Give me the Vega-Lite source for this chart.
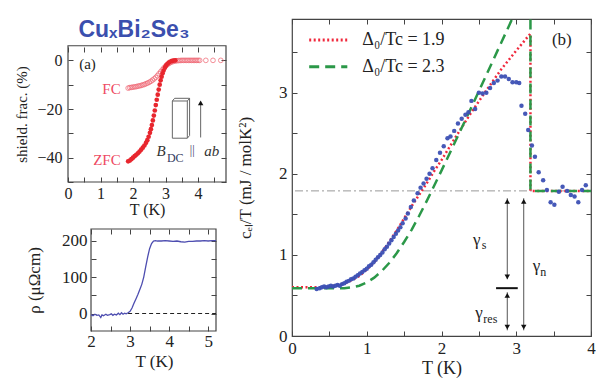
{
  "$schema": "https://vega.github.io/schema/vega-lite/v6.json",
  "background": "white",
  "padding": {"left": 14, "top": 17, "right": 0, "bottom": 0},
  "config": {
    "font": "Liberation Serif",
    "view": {"stroke": "#444", "strokeWidth": 1.2},
    "axis": {"domain": false, "grid": false, "tickSize": -5, "tickColor": "#444", "tickWidth": 1, "labelPadding": 9, "labelFont": "Liberation Serif", "titleFont": "Liberation Serif", "titleFontWeight": "normal", "labelColor": "#222", "titleColor": "#222", "labelFlush": false, "labelOverlap": false, "labelBound": false, "format": ".0f"}
  },
  "datasets": {
    "fc": [
      {"T": 1.85, "s": -11.4}, {"T": 1.9, "s": -11.2}, {"T": 1.95, "s": -11.1}, {"T": 2.0, "s": -11.0}, {"T": 2.05, "s": -10.9}, {"T": 2.1, "s": -10.8}, {"T": 2.15, "s": -10.6}, {"T": 2.2, "s": -10.5}, {"T": 2.25, "s": -10.3}, {"T": 2.3, "s": -10.1}, {"T": 2.35, "s": -9.9}, {"T": 2.4, "s": -9.6}, {"T": 2.45, "s": -9.3}, {"T": 2.5, "s": -9.0}, {"T": 2.55, "s": -8.6}, {"T": 2.6, "s": -8.1}, {"T": 2.65, "s": -7.6}, {"T": 2.7, "s": -7.0}, {"T": 2.75, "s": -6.3}, {"T": 2.8, "s": -5.5}, {"T": 2.85, "s": -4.7}, {"T": 2.9, "s": -3.9}, {"T": 2.95, "s": -3.1}, {"T": 3.0, "s": -2.4}, {"T": 3.05, "s": -1.8}, {"T": 3.1, "s": -1.3}, {"T": 3.15, "s": -0.9}, {"T": 3.2, "s": -0.6}, {"T": 3.25, "s": -0.4}, {"T": 3.3, "s": -0.25}, {"T": 3.35, "s": -0.15}, {"T": 3.4, "s": -0.1}, {"T": 3.45, "s": -0.05}, {"T": 3.5, "s": 0}, {"T": 3.55, "s": 0}, {"T": 3.6, "s": 0}, {"T": 3.65, "s": 0}, {"T": 3.7, "s": 0}, {"T": 3.75, "s": 0}, {"T": 3.8, "s": 0}, {"T": 3.85, "s": 0}, {"T": 3.9, "s": 0}, {"T": 3.95, "s": 0}, {"T": 4.0, "s": 0}, {"T": 4.05, "s": 0}, {"T": 4.24, "s": 0}, {"T": 4.46, "s": 0}, {"T": 4.7, "s": 0}
    ],
    "zfc": [
      {"T": 1.85, "s": -41.5}, {"T": 1.9, "s": -41.2}, {"T": 1.95, "s": -40.6}, {"T": 2.0, "s": -40.0}, {"T": 2.05, "s": -39.4}, {"T": 2.1, "s": -38.8}, {"T": 2.15, "s": -38.2}, {"T": 2.2, "s": -37.5}, {"T": 2.25, "s": -36.7}, {"T": 2.3, "s": -35.9}, {"T": 2.35, "s": -35.0}, {"T": 2.4, "s": -33.9}, {"T": 2.44, "s": -32.8}, {"T": 2.48, "s": -31.4}, {"T": 2.52, "s": -29.8}, {"T": 2.55, "s": -28.3}, {"T": 2.58, "s": -26.6}, {"T": 2.61, "s": -24.7}, {"T": 2.64, "s": -22.7}, {"T": 2.67, "s": -20.6}, {"T": 2.7, "s": -18.4}, {"T": 2.73, "s": -16.2}, {"T": 2.76, "s": -14.1}, {"T": 2.79, "s": -12.0}, {"T": 2.82, "s": -10.0}, {"T": 2.85, "s": -8.2}, {"T": 2.88, "s": -6.7}, {"T": 2.91, "s": -5.3}, {"T": 2.94, "s": -4.2}, {"T": 2.98, "s": -3.0}, {"T": 3.02, "s": -2.1}, {"T": 3.06, "s": -1.4}, {"T": 3.1, "s": -0.9}, {"T": 3.15, "s": -0.5}, {"T": 3.2, "s": -0.25}, {"T": 3.25, "s": -0.1}, {"T": 3.3, "s": 0}
    ],
    "box": [
      {"x": 3.21, "y": -16.7, "x2": 3.67, "y2": -16.7}, {"x": 3.67, "y": -16.7, "x2": 3.67, "y2": -32.0}, {"x": 3.67, "y": -32.0, "x2": 3.21, "y2": -32.0}, {"x": 3.21, "y": -32.0, "x2": 3.21, "y2": -16.7},
      {"x": 3.28, "y": -15.6, "x2": 3.74, "y2": -15.6}, {"x": 3.74, "y": -15.6, "x2": 3.74, "y2": -30.9}, {"x": 3.21, "y": -16.7, "x2": 3.28, "y2": -15.6}, {"x": 3.67, "y": -16.7, "x2": 3.74, "y2": -15.6}, {"x": 3.67, "y": -32.0, "x2": 3.74, "y2": -30.9}
    ],
    "rho": [
      {"T": 2.0, "r": -3}, {"T": 2.05, "r": -6}, {"T": 2.1, "r": -2}, {"T": 2.15, "r": -5}, {"T": 2.2, "r": -4}, {"T": 2.25, "r": -11}, {"T": 2.28, "r": -4}, {"T": 2.32, "r": -6}, {"T": 2.38, "r": -2}, {"T": 2.42, "r": -5}, {"T": 2.48, "r": -3}, {"T": 2.52, "r": -1}, {"T": 2.56, "r": -5}, {"T": 2.6, "r": -2}, {"T": 2.65, "r": -4}, {"T": 2.7, "r": 1}, {"T": 2.74, "r": -3}, {"T": 2.78, "r": 2}, {"T": 2.82, "r": -2}, {"T": 2.86, "r": 1}, {"T": 2.9, "r": -1}, {"T": 2.95, "r": 2}, {"T": 3.0, "r": 6}, {"T": 3.05, "r": 15}, {"T": 3.1, "r": 28}, {"T": 3.15, "r": 40}, {"T": 3.2, "r": 52}, {"T": 3.25, "r": 66}, {"T": 3.3, "r": 80}, {"T": 3.35, "r": 100}, {"T": 3.4, "r": 128}, {"T": 3.45, "r": 155}, {"T": 3.5, "r": 178}, {"T": 3.55, "r": 192}, {"T": 3.6, "r": 199}, {"T": 3.65, "r": 200}, {"T": 3.7, "r": 199}, {"T": 3.8, "r": 199}, {"T": 3.9, "r": 200}, {"T": 4.0, "r": 199}, {"T": 4.1, "r": 198}, {"T": 4.2, "r": 199}, {"T": 4.3, "r": 197}, {"T": 4.4, "r": 196}, {"T": 4.5, "r": 198}, {"T": 4.6, "r": 198}, {"T": 4.7, "r": 199}, {"T": 4.8, "r": 199}, {"T": 4.9, "r": 200}, {"T": 5.0, "r": 199}, {"T": 5.1, "r": 200}, {"T": 5.2, "r": 200}
    ],
    "bcs": [
      {"m": "Δ₀/Tc = 1.9", "i": 0, "T": 0, "c": 0.6}, {"m": "Δ₀/Tc = 1.9", "i": 1, "T": 0.3, "c": 0.6}, {"m": "Δ₀/Tc = 1.9", "i": 2, "T": 0.4, "c": 0.6}, {"m": "Δ₀/Tc = 1.9", "i": 3, "T": 0.5, "c": 0.61}, {"m": "Δ₀/Tc = 1.9", "i": 4, "T": 0.6, "c": 0.625}, {"m": "Δ₀/Tc = 1.9", "i": 5, "T": 0.7, "c": 0.65}, {"m": "Δ₀/Tc = 1.9", "i": 6, "T": 0.8, "c": 0.69}, {"m": "Δ₀/Tc = 1.9", "i": 7, "T": 0.9, "c": 0.74}, {"m": "Δ₀/Tc = 1.9", "i": 8, "T": 1.0, "c": 0.82}, {"m": "Δ₀/Tc = 1.9", "i": 9, "T": 1.1, "c": 0.91}, {"m": "Δ₀/Tc = 1.9", "i": 10, "T": 1.2, "c": 1.03}, {"m": "Δ₀/Tc = 1.9", "i": 11, "T": 1.3, "c": 1.16}, {"m": "Δ₀/Tc = 1.9", "i": 12, "T": 1.4, "c": 1.3}, {"m": "Δ₀/Tc = 1.9", "i": 13, "T": 1.5, "c": 1.45}, {"m": "Δ₀/Tc = 1.9", "i": 14, "T": 1.6, "c": 1.6}, {"m": "Δ₀/Tc = 1.9", "i": 15, "T": 1.7, "c": 1.74}, {"m": "Δ₀/Tc = 1.9", "i": 16, "T": 1.8, "c": 1.88}, {"m": "Δ₀/Tc = 1.9", "i": 17, "T": 1.9, "c": 2.03}, {"m": "Δ₀/Tc = 1.9", "i": 18, "T": 2.0, "c": 2.17}, {"m": "Δ₀/Tc = 1.9", "i": 19, "T": 2.2, "c": 2.47}, {"m": "Δ₀/Tc = 1.9", "i": 20, "T": 2.4, "c": 2.76}, {"m": "Δ₀/Tc = 1.9", "i": 21, "T": 2.6, "c": 3.03}, {"m": "Δ₀/Tc = 1.9", "i": 22, "T": 2.8, "c": 3.29}, {"m": "Δ₀/Tc = 1.9", "i": 23, "T": 3.0, "c": 3.52}, {"m": "Δ₀/Tc = 1.9", "i": 24, "T": 3.19, "c": 3.73}, {"m": "Δ₀/Tc = 1.9", "i": 25, "T": 3.19, "c": 1.79}, {"m": "Δ₀/Tc = 1.9", "i": 26, "T": 4.0, "c": 1.79},
      {"m": "Δ₀/Tc = 2.3", "i": 0, "T": 0, "c": 0.59}, {"m": "Δ₀/Tc = 2.3", "i": 1, "T": 0.3, "c": 0.59}, {"m": "Δ₀/Tc = 2.3", "i": 2, "T": 0.5, "c": 0.59}, {"m": "Δ₀/Tc = 2.3", "i": 3, "T": 0.7, "c": 0.59}, {"m": "Δ₀/Tc = 2.3", "i": 4, "T": 0.8, "c": 0.6}, {"m": "Δ₀/Tc = 2.3", "i": 5, "T": 0.9, "c": 0.62}, {"m": "Δ₀/Tc = 2.3", "i": 6, "T": 1.0, "c": 0.66}, {"m": "Δ₀/Tc = 2.3", "i": 7, "T": 1.1, "c": 0.72}, {"m": "Δ₀/Tc = 2.3", "i": 8, "T": 1.2, "c": 0.8}, {"m": "Δ₀/Tc = 2.3", "i": 9, "T": 1.3, "c": 0.9}, {"m": "Δ₀/Tc = 2.3", "i": 10, "T": 1.4, "c": 1.02}, {"m": "Δ₀/Tc = 2.3", "i": 11, "T": 1.5, "c": 1.16}, {"m": "Δ₀/Tc = 2.3", "i": 12, "T": 1.6, "c": 1.31}, {"m": "Δ₀/Tc = 2.3", "i": 13, "T": 1.7, "c": 1.48}, {"m": "Δ₀/Tc = 2.3", "i": 14, "T": 1.8, "c": 1.66}, {"m": "Δ₀/Tc = 2.3", "i": 15, "T": 1.9, "c": 1.85}, {"m": "Δ₀/Tc = 2.3", "i": 16, "T": 2.0, "c": 2.04}, {"m": "Δ₀/Tc = 2.3", "i": 17, "T": 2.2, "c": 2.43}, {"m": "Δ₀/Tc = 2.3", "i": 18, "T": 2.4, "c": 2.82}, {"m": "Δ₀/Tc = 2.3", "i": 19, "T": 2.6, "c": 3.22}, {"m": "Δ₀/Tc = 2.3", "i": 20, "T": 2.8, "c": 3.62}, {"m": "Δ₀/Tc = 2.3", "i": 21, "T": 3.0, "c": 4.02}, {"m": "Δ₀/Tc = 2.3", "i": 22, "T": 3.1, "c": 4.2}, {"m": "Δ₀/Tc = 2.3", "i": 23, "T": 3.19, "c": 4.3}, {"m": "Δ₀/Tc = 2.3", "i": 24, "T": 3.19, "c": 1.79}, {"m": "Δ₀/Tc = 2.3", "i": 25, "T": 4.0, "c": 1.79}
    ],
    "cel": [
      {"T": 0.33, "c": 0.58}, {"T": 0.37, "c": 0.59}, {"T": 0.4, "c": 0.6}, {"T": 0.43, "c": 0.61}, {"T": 0.46, "c": 0.6}, {"T": 0.49, "c": 0.61}, {"T": 0.52, "c": 0.62}, {"T": 0.55, "c": 0.61}, {"T": 0.58, "c": 0.62}, {"T": 0.61, "c": 0.63}, {"T": 0.64, "c": 0.62}, {"T": 0.67, "c": 0.64}, {"T": 0.7, "c": 0.65}, {"T": 0.73, "c": 0.67}, {"T": 0.76, "c": 0.68}, {"T": 0.79, "c": 0.7}, {"T": 0.82, "c": 0.71}, {"T": 0.85, "c": 0.73}, {"T": 0.88, "c": 0.75}, {"T": 0.91, "c": 0.77}, {"T": 0.94, "c": 0.79}, {"T": 0.97, "c": 0.81}, {"T": 1.0, "c": 0.83}, {"T": 1.03, "c": 0.86}, {"T": 1.06, "c": 0.88}, {"T": 1.09, "c": 0.91}, {"T": 1.12, "c": 0.94}, {"T": 1.15, "c": 0.97}, {"T": 1.18, "c": 1.0}, {"T": 1.21, "c": 1.03}, {"T": 1.24, "c": 1.07}, {"T": 1.27, "c": 1.1}, {"T": 1.3, "c": 1.14}, {"T": 1.33, "c": 1.18}, {"T": 1.36, "c": 1.22}, {"T": 1.39, "c": 1.26}, {"T": 1.42, "c": 1.3}, {"T": 1.45, "c": 1.34}, {"T": 1.48, "c": 1.39}, {"T": 1.52, "c": 1.45}, {"T": 1.55, "c": 1.51}, {"T": 1.59, "c": 1.59}, {"T": 1.63, "c": 1.67}, {"T": 1.68, "c": 1.76}, {"T": 1.72, "c": 1.83}, {"T": 1.76, "c": 1.88}, {"T": 1.8, "c": 1.94}, {"T": 1.84, "c": 2.0}, {"T": 1.88, "c": 2.07}, {"T": 1.93, "c": 2.17}, {"T": 1.98, "c": 2.26}, {"T": 2.03, "c": 2.34}, {"T": 2.08, "c": 2.44}, {"T": 2.12, "c": 2.46}, {"T": 2.17, "c": 2.53}, {"T": 2.22, "c": 2.62}, {"T": 2.27, "c": 2.68}, {"T": 2.32, "c": 2.73}, {"T": 2.36, "c": 2.76}, {"T": 2.4, "c": 2.9}, {"T": 2.45, "c": 2.8}, {"T": 2.5, "c": 3.0}, {"T": 2.55, "c": 2.99}, {"T": 2.6, "c": 3.0}, {"T": 2.65, "c": 3.06}, {"T": 2.7, "c": 3.12}, {"T": 2.75, "c": 3.15}, {"T": 2.8, "c": 3.2}, {"T": 2.85, "c": 3.2}, {"T": 2.9, "c": 3.17}, {"T": 2.95, "c": 3.13}, {"T": 3.0, "c": 3.13}, {"T": 3.04, "c": 3.12}, {"T": 3.07, "c": 2.84}, {"T": 3.12, "c": 2.74}, {"T": 3.16, "c": 2.54}, {"T": 3.21, "c": 2.35}, {"T": 3.25, "c": 2.21}, {"T": 3.3, "c": 2.02}, {"T": 3.36, "c": 1.92}, {"T": 3.41, "c": 1.8}, {"T": 3.46, "c": 1.65}, {"T": 3.51, "c": 1.62}, {"T": 3.57, "c": 1.78}, {"T": 3.62, "c": 1.84}, {"T": 3.68, "c": 1.79}, {"T": 3.73, "c": 1.74}, {"T": 3.78, "c": 1.72}, {"T": 3.83, "c": 1.65}, {"T": 3.88, "c": 1.8}, {"T": 3.93, "c": 1.86}
    ],
    "arrows": [
      {"x": 2.88, "y1": 0.7, "y2": 1.7}, {"x": 2.88, "y1": 0.07, "y2": 0.54}, {"x": 3.1, "y1": 0.07, "y2": 1.7}
    ],
    "heads": [
      {"x": 2.88, "y": 1.66, "d": "up"}, {"x": 2.88, "y": 0.73, "d": "down"}, {"x": 2.88, "y": 0.5, "d": "up"}, {"x": 2.88, "y": 0.11, "d": "down"}, {"x": 3.1, "y": 1.66, "d": "up"}, {"x": 3.1, "y": 0.11, "d": "down"}
    ],
    "legend": [
      {"m": "Δ₀/Tc = 1.9", "x1": 0.23, "x2": 0.74, "y": 3.65}, {"m": "Δ₀/Tc = 2.3", "x1": 0.23, "x2": 0.74, "y": 3.32}
    ]
  },
  "hconcat": [
    {
      "vconcat": [
        {
          "width": 158,
          "height": 163,
          "view": {"stroke": null},
          "resolve": {"axis": {"x": "independent", "y": "independent"}},
          "layer": [
            {
              "data": {"values": [{"x1": 0, "x2": 4.86, "y1": -50, "y2": 6}]},
              "mark": {"type": "rect", "fillOpacity": 0, "stroke": "#444", "strokeWidth": 1.2},
              "encoding": {
                "x": {"field": "x1", "type": "quantitative", "scale": {"domain": [0, 4.86], "nice": false, "zero": false}, "axis": {"orient": "bottom", "values": [0, 0.5, 1, 1.5, 2, 2.5, 3, 3.5, 4, 4.5], "labelExpr": "datum.value % 1 === 0 ? datum.label : ''", "title": "T (K)", "labelFontSize": 16, "titleFontSize": 16, "titlePadding": 0, "labelPadding": 8}},
                "x2": {"field": "x2"},
                "y": {"field": "y1", "type": "quantitative", "scale": {"domain": [-50, 17], "nice": false, "zero": false}, "axis": {"orient": "left", "values": [-50, -40, -30, -20, -10, 0], "labelExpr": "datum.value % 20 === 0 ? datum.label : ''", "title": "shield. frac. (%)", "titleY": 95, "labelFontSize": 16, "titleFontSize": 15, "titlePadding": 7, "labelPadding": 11}},
                "y2": {"field": "y2"}
              }
            },
            {
              "data": {"name": "fc"},
              "mark": {"type": "point", "shape": "circle", "filled": false, "color": "#f0606e", "size": 22, "strokeWidth": 1},
              "encoding": {
                "x": {"field": "T", "type": "quantitative", "axis": {"orient": "top", "offset": -28, "values": [0, 0.5, 1, 1.5, 2, 2.5, 3, 3.5, 4, 4.5], "labels": false, "title": null}},
                "y": {"field": "s", "type": "quantitative", "axis": {"orient": "right", "values": [-50, -40, -30, -20, -10, 0], "labels": false, "title": null}}
              }
            },
            {
              "data": {"name": "zfc"},
              "mark": {"type": "circle", "color": "#e8262e", "size": 22, "opacity": 1},
              "encoding": {
                "x": {"field": "T", "type": "quantitative", "axis": null},
                "y": {"field": "s", "type": "quantitative", "axis": null}
              }
            },
            {
              "data": {"values": [{"t": "CuₓBi₂Se₃", "T": 2.03, "s": 12.6}]},
              "mark": {"type": "text", "align": "center", "baseline": "middle", "font": "Liberation Sans", "fontSize": 23, "fontWeight": "bold", "color": "#3b4fae"},
              "encoding": {"x": {"field": "T", "type": "quantitative", "axis": null}, "y": {"field": "s", "type": "quantitative", "axis": null}, "text": {"field": "t"}}
            },
            {
              "data": {"values": [{"t": "FC", "T": 1.62, "s": -11.6}, {"t": "ZFC", "T": 1.62, "s": -41.0}]},
              "mark": {"type": "text", "align": "right", "baseline": "middle", "fontSize": 15, "color": "#ee4a62"},
              "encoding": {"x": {"field": "T", "type": "quantitative", "axis": null}, "y": {"field": "s", "type": "quantitative", "axis": null}, "text": {"field": "t"}}
            },
            {
              "data": {"values": [{"t": "(a)", "T": 0.6, "s": -1.6}]},
              "mark": {"type": "text", "align": "center", "baseline": "middle", "fontSize": 15, "color": "#222"},
              "encoding": {"x": {"field": "T", "type": "quantitative", "axis": null}, "y": {"field": "s", "type": "quantitative", "axis": null}, "text": {"field": "t"}}
            },
            {
              "data": {"name": "box"},
              "mark": {"type": "rule", "color": "#666", "strokeWidth": 1},
              "encoding": {"x": {"field": "x", "type": "quantitative", "axis": null}, "y": {"field": "y", "type": "quantitative", "axis": null}, "x2": {"field": "x2"}, "y2": {"field": "y2"}}
            },
            {
              "data": {"values": [{"x": 4.08, "y1": -31.7, "y2": -17.5}]},
              "mark": {"type": "rule", "color": "#666", "strokeWidth": 1},
              "encoding": {"x": {"field": "x", "type": "quantitative", "axis": null}, "y": {"field": "y1", "type": "quantitative", "axis": null}, "y2": {"field": "y2"}}
            },
            {
              "data": {"values": [{"x": 4.08, "y": -17.5}]},
              "mark": {"type": "point", "shape": "triangle-up", "filled": true, "color": "#111", "size": 30, "opacity": 1},
              "encoding": {"x": {"field": "x", "type": "quantitative", "axis": null}, "y": {"field": "y", "type": "quantitative", "axis": null}}
            },
            {
              "data": {"values": [{"t": "B", "T": 2.86, "s": -37.4}, {"t": "ab", "T": 4.42, "s": -37.4}]},
              "mark": {"type": "text", "align": "center", "baseline": "middle", "fontSize": 15, "fontStyle": "italic", "color": "#333"},
              "encoding": {"x": {"field": "T", "type": "quantitative", "axis": null}, "y": {"field": "s", "type": "quantitative", "axis": null}, "text": {"field": "t"}}
            },
            {
              "data": {"values": [{"t": "DC", "T": 3.3, "s": -40.0}, {"t": "||", "T": 3.82, "s": -37.0}]},
              "mark": {"type": "text", "align": "center", "baseline": "middle", "fontSize": 12, "color": "#333a60"},
              "encoding": {"x": {"field": "T", "type": "quantitative", "axis": null}, "y": {"field": "s", "type": "quantitative", "axis": null}, "text": {"field": "t"}}
            }
          ]
        },
        {
          "width": 148,
          "height": 102,
          "view": {"stroke": null},
          "resolve": {"axis": {"x": "independent", "y": "independent"}},
          "layer": [
            {
              "data": {"values": [{"x1": 2, "x2": 5.2, "y1": -48, "y2": 232}]},
              "mark": {"type": "rect", "fillOpacity": 0, "stroke": "#444", "strokeWidth": 1.2},
              "encoding": {
                "x": {"field": "x1", "type": "quantitative", "scale": {"domain": [1.411, 5.2], "nice": false, "zero": false}, "axis": {"orient": "bottom", "values": [2, 2.5, 3, 3.5, 4, 4.5, 5], "labelExpr": "datum.value % 1 === 0 ? datum.label : ''", "title": "T (K)", "titleX": 86, "labelFontSize": 17, "titleFontSize": 17, "titlePadding": 4, "labelPadding": 7}},
                "x2": {"field": "x2"},
                "y": {"field": "y1", "type": "quantitative", "scale": {"domain": [-48, 232], "nice": false, "zero": false}, "axis": {"orient": "left", "offset": -23, "values": [0, 50, 100, 150, 200], "labelExpr": "datum.value % 100 === 0 ? datum.label : ''", "title": "ρ (μΩcm)", "labelFontSize": 17, "titleFontSize": 17, "titlePadding": 18, "labelPadding": 9}},
                "y2": {"field": "y2"}
              }
            },
            {
              "data": {"name": "rho"},
              "mark": {"type": "line", "color": "#4d4db0", "strokeWidth": 1.3},
              "encoding": {
                "x": {"field": "T", "type": "quantitative", "axis": {"orient": "top", "values": [2, 2.5, 3, 3.5, 4, 4.5, 5], "labels": false, "title": null}},
                "y": {"field": "r", "type": "quantitative", "axis": {"orient": "right", "values": [0, 50, 100, 150, 200], "labels": false, "title": null}}
              }
            },
            {
              "data": {"values": [{"x1": 2.95, "x2": 5.2, "y": 0}]},
              "mark": {"type": "rule", "color": "#222", "strokeDash": [4, 3], "strokeWidth": 1},
              "encoding": {
                "x": {"field": "x1", "type": "quantitative", "axis": null},
                "x2": {"field": "x2"},
                "y": {"field": "y", "type": "quantitative", "axis": null}
              }
            }
          ]
        }
      ],
      "spacing": 11
    },
    {
      "width": 299,
      "height": 317,
      "resolve": {"axis": {"x": "independent", "y": "independent"}},
      "layer": [
        {
          "data": {"values": [{"g": 1.79}]},
          "mark": {"type": "rule", "color": "#999", "strokeDash": [8, 3, 2, 3], "strokeWidth": 1},
          "encoding": {"y": {"field": "g", "type": "quantitative", "axis": null}}
        },
        {
          "data": {"name": "bcs"},
          "mark": {"type": "line", "clip": true, "strokeWidth": 2.5},
          "encoding": {
            "x": {"field": "T", "type": "quantitative", "scale": {"domain": [0, 4], "nice": false, "zero": false}, "axis": {"orient": "top", "values": [0, 0.5, 1, 1.5, 2, 2.5, 3, 3.5, 4], "labels": false, "title": null}},
            "y": {"field": "c", "type": "quantitative", "scale": {"domain": [0, 3.91], "nice": false, "zero": false}, "axis": {"orient": "right", "values": [0, 0.5, 1, 1.5, 2, 2.5, 3, 3.5], "labels": false, "title": null}},
            "order": {"field": "i", "type": "quantitative"},
            "color": {"field": "m", "type": "nominal", "scale": {"domain": ["Δ₀/Tc = 1.9", "Δ₀/Tc = 2.3"], "range": ["#f0283c", "#2b9848"]}, "legend": null},
            "strokeDash": {"field": "m", "type": "nominal", "scale": {"domain": ["Δ₀/Tc = 1.9", "Δ₀/Tc = 2.3"], "range": [[2, 2.5], [10, 6]]}, "legend": null}
          }
        },
        {
          "data": {"name": "legend"},
          "mark": {"type": "rule", "strokeWidth": 3},
          "encoding": {
            "x": {"field": "x1", "type": "quantitative", "axis": null}, "x2": {"field": "x2"},
            "y": {"field": "y", "type": "quantitative", "axis": null},
            "color": {"field": "m", "type": "nominal", "legend": null},
            "strokeDash": {"field": "m", "type": "nominal", "legend": null}
          }
        },
        {
          "data": {"name": "legend"},
          "mark": {"type": "text", "align": "left", "baseline": "middle", "fontSize": 18, "color": "#222", "dx": 15},
          "encoding": {
            "x": {"field": "x2", "type": "quantitative", "axis": null},
            "y": {"field": "y", "type": "quantitative", "axis": null},
            "text": {"field": "m"}
          }
        },
        {
          "data": {"name": "cel"},
          "mark": {"type": "circle", "color": "#3c50b4", "size": 20, "opacity": 0.95},
          "encoding": {
            "x": {"field": "T", "type": "quantitative", "axis": {"orient": "bottom", "values": [0, 0.5, 1, 1.5, 2, 2.5, 3, 3.5, 4], "labelExpr": "datum.value % 1 === 0 ? datum.label : ''", "title": "T (K)", "labelFontSize": 17, "titleFontSize": 18, "titlePadding": 3, "labelPadding": 9}},
            "y": {"field": "c", "type": "quantitative", "axis": {"orient": "left", "values": [0, 0.5, 1, 1.5, 2, 2.5, 3, 3.5], "labelExpr": "datum.value % 1 === 0 ? datum.label : ''", "title": "cₑₗ/T (mJ / molK²)", "labelFontSize": 17, "titleFontSize": 17, "titlePadding": 24, "labelPadding": 10}}
          }
        },
        {
          "data": {"name": "arrows"},
          "mark": {"type": "rule", "color": "#555", "strokeWidth": 1},
          "encoding": {"x": {"field": "x", "type": "quantitative", "axis": null}, "y": {"field": "y1", "type": "quantitative", "axis": null}, "y2": {"field": "y2"}}
        },
        {
          "data": {"values": [{"x1": 2.73, "x2": 3.02, "y": 0.59}]},
          "mark": {"type": "rule", "color": "#111", "strokeWidth": 2},
          "encoding": {"x": {"field": "x1", "type": "quantitative", "axis": null}, "x2": {"field": "x2"}, "y": {"field": "y", "type": "quantitative", "axis": null}}
        },
        {
          "data": {"name": "heads"},
          "mark": {"type": "point", "filled": true, "color": "#111", "size": 30, "opacity": 1},
          "encoding": {"x": {"field": "x", "type": "quantitative", "axis": null}, "y": {"field": "y", "type": "quantitative", "axis": null}, "shape": {"field": "d", "type": "nominal", "scale": {"domain": ["up", "down"], "range": ["triangle-up", "triangle-down"]}, "legend": null}}
        },
        {
          "data": {"values": [{"t": "γ", "T": 2.47, "c": 1.19}, {"t": "γ", "T": 3.27, "c": 0.86}, {"t": "γ", "T": 2.5, "c": 0.28}, {"t": "(b)", "T": 3.61, "c": 3.65}]},
          "mark": {"type": "text", "align": "center", "baseline": "middle", "fontSize": 17, "color": "#222"},
          "encoding": {"x": {"field": "T", "type": "quantitative", "axis": null}, "y": {"field": "c", "type": "quantitative", "axis": null}, "text": {"field": "t"}}
        },
        {
          "data": {"values": [{"t": "s", "T": 2.54, "c": 1.12}, {"t": "n", "T": 3.32, "c": 0.79}, {"t": "res", "T": 2.56, "c": 0.21}]},
          "mark": {"type": "text", "align": "left", "baseline": "middle", "fontSize": 12, "color": "#222"},
          "encoding": {"x": {"field": "T", "type": "quantitative", "axis": null}, "y": {"field": "c", "type": "quantitative", "axis": null}, "text": {"field": "t"}}
        }
      ]
    }
  ],
  "spacing": 8
}
